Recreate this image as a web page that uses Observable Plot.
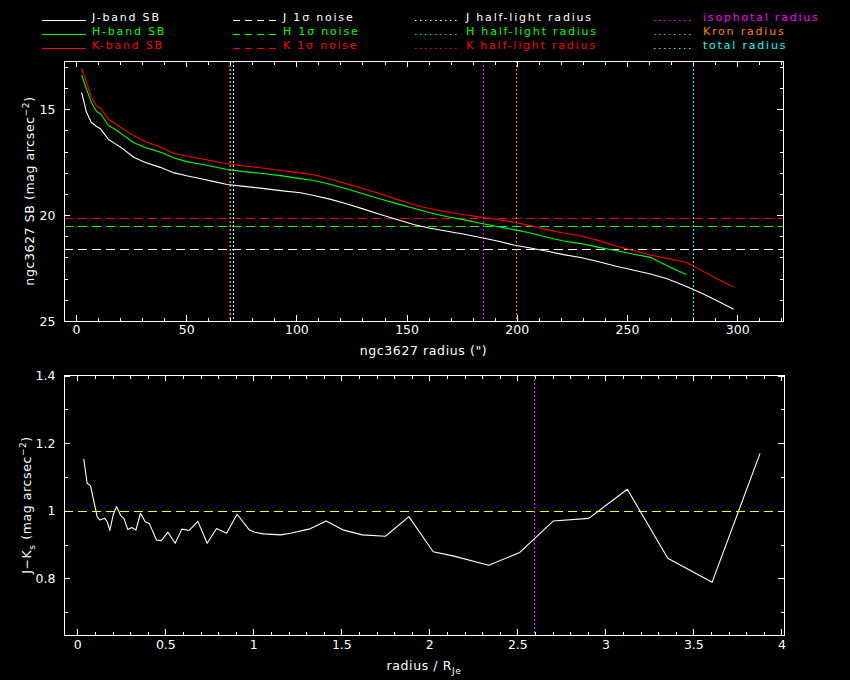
<!DOCTYPE html>
<html>
<head>
<meta charset="utf-8">
<script src="https://cdn.jsdelivr.net/npm/d3@7"></script>
<script src="https://cdn.jsdelivr.net/npm/@observablehq/plot@0.6"></script>
<style>
  html, body { margin: 0; padding: 0; background: #000; }
  body { width: 850px; height: 680px; overflow: hidden; font-family: "DejaVu Sans", sans-serif; }
  #legend, #top, #bottom { display: block; line-height: 0; }
  svg { display: block; }
</style>
</head>
<body>
<div id="legend"></div>
<div id="top"></div>
<div id="bottom"></div>
<script>
// ---------------- data ----------------
const radius = [2.4, 4.5, 6.7, 9.1, 10.9, 14.5, 17.7, 21.5, 26, 31, 38, 44, 50, 56, 62, 68.4, 76, 83.5, 92.6, 101.6,
  107.7, 115, 122.8, 130, 137.9, 145, 153, 160, 168.2, 176, 183.3, 191, 198.4, 206, 213.6, 221, 228.7, 237, 245.3, 253,
  260.4, 268, 276.5, 283, 290, 298];
const sbJ = [14.20, 15.11, 15.59, 15.79, 15.90, 16.40, 16.61, 16.88, 17.24, 17.48,
  17.72, 17.97, 18.12, 18.25, 18.38, 18.53, 18.62, 18.70, 18.82, 18.92,
  19.05, 19.22, 19.45, 19.68, 19.95, 20.17, 20.42, 20.58, 20.74, 20.88,
  21.03, 21.20, 21.39, 21.53, 21.68, 21.84, 21.98, 22.18, 22.40, 22.58,
  22.76, 22.98, 23.33, 23.63, 23.98, 24.41];
const sbH = [13.38, 14.01, 14.64, 15.08, 15.19, 15.74, 15.93, 16.22, 16.56, 16.77,
  17.00, 17.27, 17.45, 17.56, 17.68, 17.82, 17.92, 18.00, 18.11, 18.25,
  18.34, 18.52, 18.74, 18.97, 19.21, 19.42, 19.65, 19.85, 20.05, 20.20,
  20.36, 20.51, 20.66, 20.82, 21.02, 21.20, 21.32, 21.50, 21.66, 21.82,
  21.97, 22.37, 22.78, null, null, null];
const sbK = [13.06, 13.69, 14.40, 14.82, 14.92, 15.45, 15.66, 15.93, 16.22, 16.50,
  16.76, 17.05, 17.18, 17.30, 17.42, 17.55, 17.65, 17.74, 17.87, 17.98,
  18.07, 18.27, 18.50, 18.72, 18.97, 19.22, 19.47, 19.66, 19.83, 19.96,
  20.07, 20.18, 20.31, 20.47, 20.66, 20.82, 20.95, 21.18, 21.45, 21.66,
  21.86, 22.02, 22.20, 22.55, 22.95, 23.36];

const bands = ["J", "H", "K"];
const noiseLevels = [21.59, 20.51, 20.14];          // J, H, K 1-sigma noise (mag arcsec^-2)
const halfLightRadii = [71.4, 70.0, 69.3];          // J, H, K half-light radius (")
const apertureNames = ["isophotal radius", "Kron radius", "total radius"];
const apertureRadii = [184.8, 199.5, 279.8];

const colourRadius = [0.034, 0.053, 0.072, 0.110, 0.125, 0.152, 0.167, 0.182, 0.201, 0.220,
  0.243, 0.262, 0.284, 0.307, 0.330, 0.356, 0.383, 0.406, 0.447, 0.474,
  0.512, 0.553, 0.591, 0.633, 0.682, 0.735, 0.788, 0.845, 0.905, 0.974,
  1.004, 1.055, 1.152, 1.208, 1.313, 1.411, 1.511, 1.616, 1.748, 1.881,
  2.019, 2.137, 2.335, 2.511, 2.701, 2.903, 3.122, 3.352, 3.604, 3.875];
const colourJK = [1.154, 1.083, 1.076, 0.984, 0.974, 0.979, 0.969, 0.943, 0.989, 1.014,
  0.988, 0.979, 0.946, 0.952, 0.944, 0.994, 0.969, 0.964, 0.915, 0.913,
  0.938, 0.905, 0.947, 0.943, 0.970, 0.905, 0.949, 0.935, 0.991, 0.945,
  0.938, 0.933, 0.930, 0.935, 0.947, 0.971, 0.944, 0.930, 0.926, 0.984,
  0.880, 0.867, 0.840, 0.878, 0.971, 0.979, 1.065, 0.861, 0.790, 1.170];
const colourReference = 1.0;
const isophotalRatio = 2.593;   // isophotal radius / R_Je

// tick labels
const topXTicks = [0, 50, 100, 150, 200, 250, 300];
const topYTicks = [15, 20, 25];
const botXTicks = [0, 0.5, 1, 1.5, 2, 2.5, 3, 3.5, 4];
const botXTickLabels = ["0", "0.5", "1", "1.5", "2", "2.5", "3", "3.5", "4"];
const botYTicks = [0.8, 1.0, 1.2, 1.4];
const botYTickLabels = ["0.8", "1", "1.2", "1.4"];

// legend texts
const legendSB = ["J-band SB", "H-band SB", "K-band SB"];
const legendNoise = ["J 1σ noise", "H 1σ noise", "K 1σ noise"];
const legendHalf = ["J half-light radius", "H half-light radius", "K half-light radius"];

// ---------------- styles ----------------
const bandColours = ["#ffffff", "#00ff00", "#ff0000"];
const apertureColours = ["#ff00ff", "#ff8000", "#00ffff"];
const FONT = "'DejaVu Sans', sans-serif";
const DASH = "9,5";
const DOT = "2,2";

// ---------------- legend ----------------
const leg = d3.select("#legend").append("svg").attr("width", 850).attr("height", 55)
  .style("background", "#000");
const rowsY = [20.5, 34.5, 48.5];
function legendCol(x1, x2, tx, labels, colours, dash) {
  labels.forEach((lab, i) => {
    leg.append("line").attr("x1", x1).attr("x2", x2).attr("y1", rowsY[i]).attr("y2", rowsY[i])
      .attr("stroke", colours[i]).attr("stroke-width", 1.2)
      .attr("stroke-dasharray", dash);
    leg.append("text").attr("x", tx).attr("y", rowsY[i]).attr("fill", colours[i])
      .attr("font-family", FONT).attr("font-size", 11).attr("letter-spacing", 1.8)
      .text(lab);
  });
}
legendCol(42, 86, 92, legendSB, bandColours, null);
legendCol(233, 277, 283, legendNoise, bandColours, "7,5");
legendCol(415, 457, 466, legendHalf, bandColours, "1.5,3.5");
legendCol(654, 693, 703, apertureNames, apertureColours, "1.5,3.5");

// ---------------- helpers ----------------
function frameTicks(xMaj, xMin, yMaj, yMin, W, H) {
  const M = 6, m = 3.5, s = {stroke: "white", strokeWidth: 1, shapeRendering: "crispEdges"};
  return [
    Plot.tickX(xMaj, {x: d => d, ...s, insetTop: H - M}),
    Plot.tickX(xMaj, {x: d => d, ...s, insetBottom: H - M}),
    Plot.tickX(xMin, {x: d => d, ...s, insetTop: H - m}),
    Plot.tickX(xMin, {x: d => d, ...s, insetBottom: H - m}),
    Plot.tickY(yMaj, {y: d => d, ...s, insetRight: W - M}),
    Plot.tickY(yMaj, {y: d => d, ...s, insetLeft: W - M}),
    Plot.tickY(yMin, {y: d => d, ...s, insetRight: W - m}),
    Plot.tickY(yMin, {y: d => d, ...s, insetLeft: W - m})
  ];
}
function addText(svg, x, y, parts, rotate) {
  const t = d3.select(svg).append("text")
    .attr("fill", "white").attr("font-family", FONT).attr("font-size", 12.5)
    .attr("letter-spacing", 0.6).attr("text-anchor", "middle")
    .attr("transform", `translate(${x},${y})` + (rotate ? ` rotate(${rotate})` : ""));
  parts.forEach(([txt, kind]) => {
    const sp = t.append("tspan").text(txt);
    if (kind === "sup") sp.attr("dy", -5).attr("font-size", 9);
    if (kind === "sub") sp.attr("dy", 4).attr("font-size", 9);
    if (kind === "back") sp.attr("dy", 5);
    if (kind === "backsub") sp.attr("dy", -4);
  });
}

// ---------------- top panel ----------------
const T = {width: 850, height: 310, ml: 64, mr: 67, mt: 6, mb: 44};
const TW = T.width - T.ml - T.mr, TH = T.height - T.mt - T.mb;
const sbData = bands.flatMap((b, k) => radius.map((r, i) => ({band: b, r, sb: [sbJ, sbH, sbK][k][i]})));

const topPlot = Plot.plot({
  width: T.width, height: T.height,
  marginLeft: T.ml, marginRight: T.mr, marginTop: T.mt, marginBottom: T.mb,
  style: {background: "#000", color: "white", fontFamily: FONT, fontSize: "12px", overflow: "visible"},
  x: {domain: [-5.44, 320.8], axis: null},
  y: {domain: [25, 12.72], axis: null},
  marks: [
    Plot.ruleY(noiseLevels, {y: d => d, stroke: (d, i) => bandColours[i], strokeDasharray: DASH, shapeRendering: "crispEdges"}),
    Plot.ruleX(halfLightRadii, {x: d => d, stroke: (d, i) => bandColours[i], strokeDasharray: DOT, shapeRendering: "crispEdges"}),
    Plot.ruleX(apertureRadii, {x: d => d, stroke: (d, i) => apertureColours[i], strokeDasharray: DOT, shapeRendering: "crispEdges"}),
    ...bands.map((b, k) => Plot.line(sbData.filter(d => d.band === b && d.sb != null),
      {x: "r", y: "sb", stroke: bandColours[k], strokeWidth: 1.1})),
    Plot.frame({stroke: "white", strokeWidth: 1, shapeRendering: "crispEdges"}),
    ...frameTicks(topXTicks, d3.range(10, 330, 10).filter(v => v % 50 !== 0),
      topYTicks, d3.range(13, 25, 1).filter(v => v % 5 !== 0), TW, TH),
    Plot.text(topXTicks, {x: d => d, frameAnchor: "bottom", dy: 12, text: d => String(d), fill: "white", fontSize: 12.5}),
    Plot.text(topYTicks, {y: d => d, frameAnchor: "left", dx: -9, textAnchor: "end", text: d => String(d), fill: "white", fontSize: 12.5})
  ]
});
document.getElementById("top").appendChild(topPlot);
addText(topPlot, T.ml + TW / 2, 300, [["ngc3627 radius (\")"]]);
addText(topPlot, 34, T.mt + TH / 2, [["ngc3627 SB (mag arcsec"], ["−2", "sup"], [")", "back"]], -90);

// ---------------- bottom panel ----------------
const B = {width: 850, height: 315, ml: 64, mr: 66, mt: 10, mb: 45};
const BW = B.width - B.ml - B.mr, BH = B.height - B.mt - B.mb;
const jkData = colourRadius.map((r, i) => ({r, c: colourJK[i]}));

const botPlot = Plot.plot({
  width: B.width, height: B.height,
  marginLeft: B.ml, marginRight: B.mr, marginTop: B.mt, marginBottom: B.mb,
  style: {background: "#000", color: "white", fontFamily: FONT, fontSize: "12px", overflow: "visible"},
  x: {domain: [-0.0756, 4.015], axis: null},
  y: {domain: [0.632, 1.402], axis: null},
  marks: [
    Plot.ruleY([colourReference], {y: d => d, stroke: "#ffff00", strokeDasharray: DASH, shapeRendering: "crispEdges"}),
    Plot.ruleX([isophotalRatio], {x: d => d, stroke: apertureColours[0], strokeDasharray: DOT, shapeRendering: "crispEdges"}),
    Plot.line(jkData, {x: "r", y: "c", stroke: "white", strokeWidth: 1.1}),
    Plot.frame({stroke: "white", strokeWidth: 1, shapeRendering: "crispEdges"}),
    ...frameTicks(botXTicks, d3.range(1, 41).map(v => v / 10).filter(v => Math.round(v * 10) % 5 !== 0),
      botYTicks, [0.7, 0.9, 1.1, 1.3], BW, BH),
    Plot.text(botXTicks, {x: d => d, frameAnchor: "bottom", dy: 13, text: (d, i) => botXTickLabels[i], fill: "white", fontSize: 12.5}),
    Plot.text(botYTicks, {y: d => d, frameAnchor: "left", dx: -9, textAnchor: "end", text: (d, i) => botYTickLabels[i], fill: "white", fontSize: 12.5})
  ]
});
document.getElementById("bottom").appendChild(botPlot);
addText(botPlot, B.ml + BW / 2, 305, [["radius / R"], ["Je", "sub"]]);
addText(botPlot, 31, B.mt + BH / 2, [["J−K"], ["s", "sub"], [" (mag arcsec", "backsub"], ["−2", "sup"], [")", "back"]], -90);
</script>
</body>
</html>
